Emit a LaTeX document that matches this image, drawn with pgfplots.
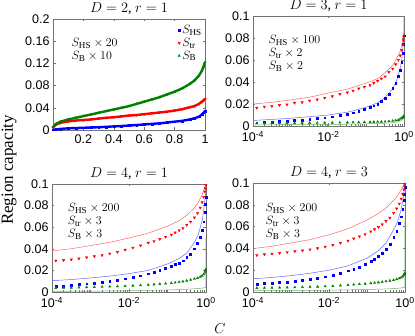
\documentclass[border=0pt]{standalone}
\usepackage{pgfplots}
\pgfplotsset{compat=1.18}
\usepackage{pgfplotstable}
\usepackage{fontspec}
\setmainfont{Liberation Serif}
\newfontfamily\ticksans{Liberation Sans}

\definecolor{cblue}{RGB}{0,0,255}
\definecolor{cred}{RGB}{255,0,0}
\definecolor{cgreen}{RGB}{0,128,0}

% D=2, r=1 (linear C)
\pgfplotstableread{
x     hs     tr     b
0.00  0.0005 0.005  0.005
0.02  0.001  0.010  0.011
0.05  0.002  0.013  0.015
0.10  0.003  0.0155 0.019
0.15  0.0035 0.017  0.022
0.20  0.004  0.018  0.025
0.25  0.0045 0.019  0.028
0.30  0.005  0.0205 0.031
0.35  0.0057 0.022  0.034
0.40  0.0065 0.023  0.037
0.45  0.0072 0.0245 0.040
0.50  0.008  0.026  0.043
0.55  0.009  0.027  0.047
0.60  0.010  0.0285 0.051
0.65  0.011  0.030  0.055
0.70  0.012  0.0315 0.059
0.75  0.0135 0.033  0.064
0.80  0.015  0.035  0.069
0.85  0.0165 0.0375 0.075
0.90  0.019  0.041  0.083
0.93  0.021  0.043  0.089
0.96  0.024  0.047  0.098
0.98  0.028  0.051  0.107
0.99  0.031  0.053  0.114
1.00  0.034  0.056  0.122
}\tabA

% markers, log C panels
\pgfplotstableread{
x        hs     tr     b
1.26e-4  0.003  0.0165 0.0025
2.00e-4  0.0032 0.0175 0.0025
3.16e-4  0.0035 0.018  0.0026
5.01e-4  0.004  0.019  0.0026
7.94e-4  0.0045 0.0195 0.0027
1.26e-3  0.005  0.021  0.0027
2.00e-3  0.0055 0.0215 0.0028
3.16e-3  0.006  0.023  0.0028
5.01e-3  0.0068 0.024  0.0029
7.94e-3  0.0075 0.0255 0.003
0.0126   0.0085 0.027  0.003
0.0200   0.0095 0.029  0.0031
0.0316   0.011  0.0305 0.0032
0.0447   0.012  0.032  0.0033
0.0631   0.0135 0.034  0.0034
0.0891   0.015  0.0355 0.0035
0.126    0.017  0.037  0.0036
0.158    0.0185 0.039  0.0037
0.200    0.020  0.041  0.0038
0.251    0.0225 0.043  0.0039
0.316    0.025  0.045  0.004
0.398    0.029  0.049  0.0043
0.501    0.034  0.052  0.0047
0.603    0.039  0.056  0.0051
0.708    0.045  0.060  0.0055
0.794    0.051  0.064  0.0065
0.871    0.058  0.069  0.0072
0.933    0.066  0.074  0.0078
0.966    0.074  0.078  0.0085
0.989    0.082  0.081  0.009
}\tabBm
\pgfplotstableread{
x        hs     tr     b
1e-4     0.005  0.020  0.001
3.16e-4  0.006  0.0215 0.0011
1e-3     0.007  0.0237 0.0012
3.16e-3  0.0085 0.0262 0.0013
0.01     0.010  0.030  0.0014
0.0316   0.0125 0.0335 0.0016
0.1      0.017  0.039  0.002
0.2      0.021  0.043  0.0022
0.316    0.026  0.0485 0.0025
0.501    0.034  0.055  0.003
0.631    0.041  0.061  0.0035
0.794    0.052  0.068  0.0045
0.891    0.063  0.074  0.0055
0.955    0.075  0.080  0.0065
0.989    0.084  0.085  0.0075
1.0      0.085  0.1    0.05
}\tabBl

\pgfplotstableread{
x        hs     tr     b
1.26e-4  0.005  0.029  0.0037
2.00e-4  0.0057 0.0295 0.0038
3.16e-4  0.0063 0.030  0.004
5.01e-4  0.007  0.031  0.0042
7.94e-4  0.0077 0.032  0.0044
1.26e-3  0.0085 0.033  0.0046
2.00e-3  0.0093 0.034  0.0048
3.16e-3  0.010  0.0355 0.005
5.01e-3  0.0112 0.037  0.0052
7.94e-3  0.0124 0.039  0.0055
0.0126   0.0135 0.041  0.0058
0.0200   0.015  0.043  0.0062
0.0316   0.017  0.0455 0.0066
0.0447   0.0185 0.047  0.007
0.0631   0.020  0.049  0.0074
0.0891   0.022  0.051  0.0078
0.126    0.024  0.053  0.0083
0.158    0.0255 0.055  0.0087
0.200    0.027  0.057  0.0092
0.251    0.029  0.059  0.0098
0.316    0.032  0.062  0.0105
0.398    0.035  0.065  0.0113
0.501    0.040  0.069  0.0122
0.603    0.045  0.073  0.013
0.708    0.051  0.078  0.014
0.794    0.057  0.083  0.015
0.871    0.065  0.088  0.0163
0.933    0.074  0.093  0.018
0.966    0.081  0.096  0.0195
0.989    0.088  0.099  0.021
}\tabCm
\pgfplotstableread{
x        hs     tr     b
1e-4     0.0105 0.038  0.0006
3.16e-4  0.0115 0.040  0.0007
1e-3     0.013  0.043  0.0008
3.16e-3  0.0147 0.046  0.001
0.01     0.017  0.050  0.0012
0.0316   0.020  0.0545 0.0015
0.1      0.026  0.061  0.0019
0.2      0.031  0.066  0.0022
0.316    0.036  0.071  0.0025
0.501    0.046  0.078  0.003
0.631    0.053  0.083  0.0033
0.794    0.066  0.090  0.0036
0.891    0.078  0.095  0.0039
0.955    0.088  0.099  0.0041
0.989    0.093  0.1    0.0043
1.0      0.095  0.1    0.05
}\tabCl

\pgfplotstableread{
x        hs     tr     b
1.26e-4  0.0074 0.0337 0.0037
2.00e-4  0.0078 0.0345 0.0038
3.16e-4  0.0082 0.035  0.0039
5.01e-4  0.0087 0.0357 0.004
7.94e-4  0.0093 0.0365 0.0041
1.26e-3  0.010  0.0373 0.0043
2.00e-3  0.0108 0.038  0.0045
3.16e-3  0.0117 0.039  0.0047
5.01e-3  0.0128 0.040  0.0049
7.94e-3  0.014  0.0415 0.0052
0.0126   0.0155 0.043  0.0055
0.0200   0.0172 0.045  0.0059
0.0316   0.0195 0.047  0.0064
0.0447   0.0212 0.049  0.0068
0.0631   0.023  0.051  0.0072
0.0891   0.0253 0.053  0.0076
0.126    0.028  0.0555 0.008
0.158    0.030  0.0575 0.0084
0.200    0.0325 0.0595 0.0088
0.251    0.0355 0.062  0.0093
0.316    0.039  0.065  0.0098
0.398    0.0435 0.068  0.0104
0.501    0.050  0.0725 0.011
0.603    0.056  0.0765 0.0117
0.708    0.063  0.081  0.0125
0.794    0.069  0.0855 0.0133
0.871    0.076  0.090  0.0143
0.933    0.084  0.094  0.0155
0.966    0.090  0.097  0.0165
0.989    0.096  0.099  0.0175
}\tabDm
\pgfplotstableread{
x        hs     tr     b
1e-4     0.0122 0.0398 0.0012
3.16e-4  0.0133 0.042  0.0013
1e-3     0.015  0.045  0.0014
3.16e-3  0.0172 0.048  0.0015
0.01     0.020  0.0525 0.0017
0.0316   0.024  0.058  0.002
0.1      0.031  0.066  0.0023
0.2      0.038  0.072  0.0026
0.316    0.045  0.077  0.0028
0.501    0.057  0.084  0.0031
0.631    0.064  0.088  0.0034
0.794    0.076  0.094  0.0037
0.891    0.085  0.097  0.004
0.955    0.093  0.099  0.0042
0.989    0.098  0.1    0.0043
1.0      0.1    0.1    0.068
}\tabDl

\pgfplotsset{
  panel/.style={
    width=152pt, height=110pt, scale only axis,
    axis line style={black!55},
    tick style={black!55, line width=0.4pt},
    tick align=inside, major tick length=2.5pt, minor tick length=1.5pt,
    tick label style={font=\ticksans\fontsize{12.5}{12.5}\selectfont},
    xticklabel style={yshift=-1.5pt},
    /pgf/number format/assume math mode=true,
    title style={font=\fontsize{14}{15}\selectfont, yshift=-5.5pt},
    ymin=0, ymax=0.1,
    ytick={0,0.02,0.04,0.06,0.08,0.1},
    yticklabels={0,0.02,0.04,0.06,0.08,0.1},
  },
  logpanel/.style={panel, xmin=1e-4, xmax=1,
    xtick={1e-4,1e-2,1},
    minor xtick={2e-4,3e-4,4e-4,5e-4,6e-4,7e-4,8e-4,9e-4,1e-3,
      2e-3,3e-3,4e-3,5e-3,6e-3,7e-3,8e-3,9e-3,
      2e-2,3e-2,4e-2,5e-2,6e-2,7e-2,8e-2,9e-2,1e-1,
      2e-1,3e-1,4e-1,5e-1,6e-1,7e-1,8e-1,9e-1},
    xticklabels={10\textsuperscript{-4},10\textsuperscript{-2},10\textsuperscript{0}}},
  hsm/.style={only marks, mark=square*, mark size=0.9pt, cblue},
  trm/.style={only marks, mark=triangle*, mark size=1.4pt, mark options={rotate=180}, cred},
  bm/.style={only marks, mark=triangle*, mark size=1.3pt, cgreen},
  hsline/.style={cblue!60, line width=0.5pt},
  trline/.style={cred!60, line width=0.5pt},
  bline/.style={cgreen!60, line width=0.5pt},
}
\tikzset{txt/.style={anchor=west, align=left, font=\fontsize{13}{13}\selectfont}}

\begin{document}
\begin{tikzpicture}
\path[use as bounding box] (0pt,0pt) rectangle (415pt,336pt);

\begin{axis}[panel, at={(53pt,206pt)}, anchor=south west, height=111pt,
    title={$D=2$, $r=1$},
    xmin=0, xmax=1, ymax=0.2,
    xtick={0.2,0.4,0.6,0.8,1}, xticklabels={0.2,0.4,0.6,0.8,1},
    ytick={0,0.04,0.08,0.12,0.16,0.2}, yticklabels={0,0.04,0.08,0.12,0.16,0.2},
    legend style={at={(1,0.97)}, anchor=north east, draw=none, fill=none,
      font=\fontsize{13}{13}\selectfont, row sep=-1pt, inner sep=1pt},
    legend cell align=left]
\addplot[cblue, line width=2.4pt, forget plot] table[x=x, y=hs] {\tabA};
\addplot[cred, line width=2.4pt, forget plot] table[x=x, y=tr] {\tabA};
\addplot[cgreen, line width=2.4pt, forget plot] table[x=x, y=b] {\tabA};
\addplot[hsm] table[x=x, y=hs] {\tabA};
\addplot[trm] table[x=x, y=tr] {\tabA};
\addplot[bm] table[x=x, y=b] {\tabA};
\addplot[red!70!blue, line width=0.6pt, forget plot] coordinates {(1,0) (1,0.056)};
\addplot[cred, line width=0.6pt, forget plot] coordinates {(1,0.056) (1,0.2)};
\legend{$S_{\mathrm{HS}}$, $S_{\mathrm{tr}}$, $S_{\mathrm{B}}$}
\node[txt] at (rel axis cs:0.1,0.72) {$S_{\mathrm{HS}}\times 20$\\ $S_{\mathrm{B}}\times 10$};
\end{axis}

\begin{semilogxaxis}[logpanel, at={(253pt,210pt)}, anchor=south west, width=151pt,
    title={$D=3$, $r=1$}]
\addplot[hsm] table[x=x, y=hs] {\tabBm};
\addplot[trm] table[x=x, y=tr] {\tabBm};
\addplot[bm] table[x=x, y=b] {\tabBm};
\addplot[hsline] table[x=x, y=hs] {\tabBl};
\addplot[trline] table[x=x, y=tr] {\tabBl};
\addplot[bline] table[x=x, y=b] {\tabBl};
\node[txt] at (rel axis cs:0.08,0.66) {$S_{\mathrm{HS}}\times 100$\\ $S_{\mathrm{tr}}\times 2$\\ $S_{\mathrm{B}}\times 2$};
\end{semilogxaxis}

\begin{semilogxaxis}[logpanel, at={(52pt,44pt)}, anchor=south west, width=154pt, height=108pt,
    title={$D=4$, $r=1$}]
\addplot[hsm] table[x=x, y=hs] {\tabCm};
\addplot[trm] table[x=x, y=tr] {\tabCm};
\addplot[bm] table[x=x, y=b] {\tabCm};
\addplot[hsline] table[x=x, y=hs] {\tabCl};
\addplot[trline] table[x=x, y=tr] {\tabCl};
\addplot[bline] table[x=x, y=b] {\tabCl};
\node[txt] at (rel axis cs:0.08,0.65) {$S_{\mathrm{HS}}\times 200$\\ $S_{\mathrm{tr}}\times 3$\\ $S_{\mathrm{B}}\times 3$};
\end{semilogxaxis}

\begin{semilogxaxis}[logpanel, at={(253pt,44pt)}, anchor=south west, width=152pt, height=109pt,
    title={$D=4$, $r=3$}]
\addplot[hsm] table[x=x, y=hs] {\tabDm};
\addplot[trm] table[x=x, y=tr] {\tabDm};
\addplot[bm] table[x=x, y=b] {\tabDm};
\addplot[hsline] table[x=x, y=hs] {\tabDl};
\addplot[trline] table[x=x, y=tr] {\tabDl};
\addplot[bline] table[x=x, y=b] {\tabDl};
\node[txt] at (rel axis cs:0.06,0.65) {$S_{\mathrm{HS}}\times 200$\\ $S_{\mathrm{tr}}\times 3$\\ $S_{\mathrm{B}}\times 3$};
\end{semilogxaxis}

\node[rotate=90, font=\fontsize{17}{17}\selectfont] at (9pt,166pt) {Region capacity};
\node[font=\fontsize{15}{15}\selectfont] at (220pt,7pt) {$C$};
\end{tikzpicture}
\end{document}
